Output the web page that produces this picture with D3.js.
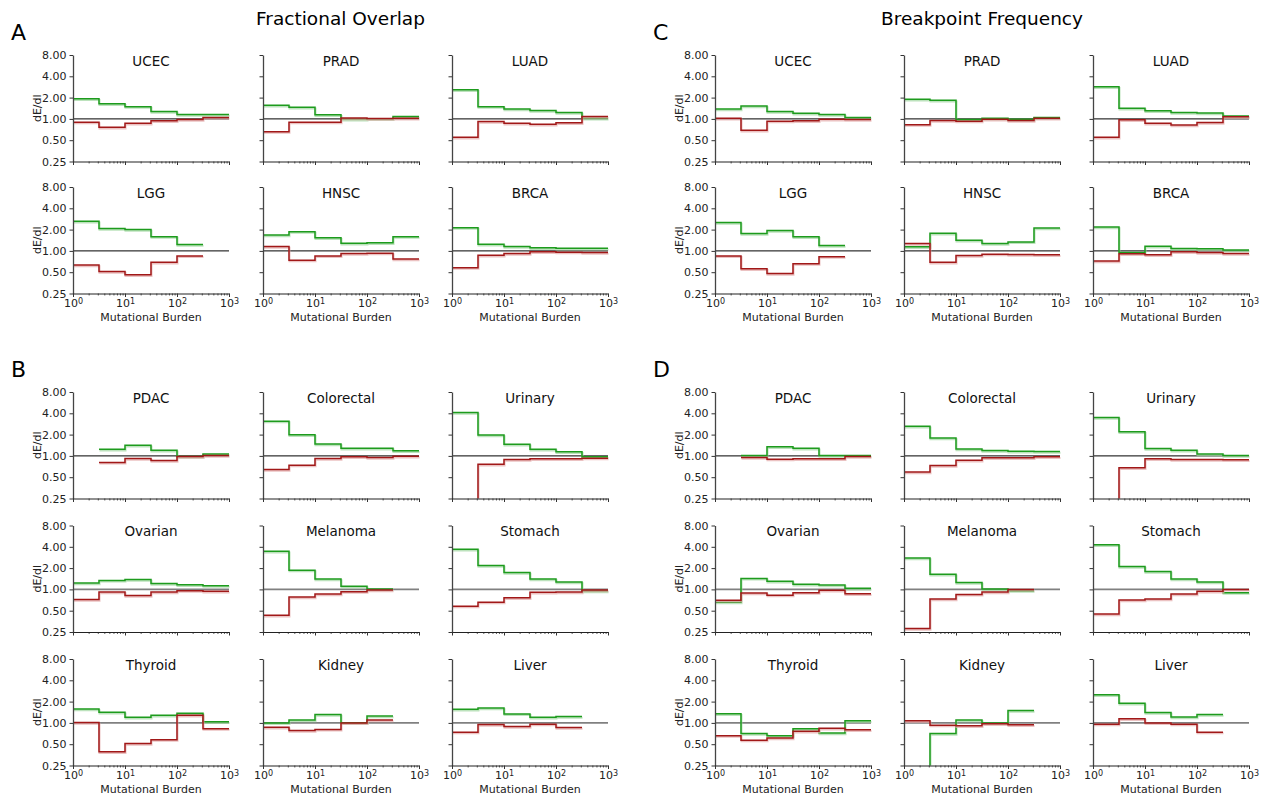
<!DOCTYPE html>
<html>
<head>
<meta charset="utf-8">
<script src="https://cdn.jsdelivr.net/npm/d3@7"></script>
<style>
  body { margin: 0; background: #fff; }
  text { font-family: "DejaVu Sans", sans-serif; }
</style>
</head>
<body>
<div id="chart"></div>
<script>
// tumour types
var tumorsTcga = ["UCEC", "PRAD", "LUAD", "LGG", "HNSC", "BRCA"];
var tumorsPcawg = ["PDAC", "Colorectal", "Urinary", "Ovarian", "Melanoma", "Stomach", "Thyroid", "Kidney", "Liver"];

// half-decade bins of mutational burden
var binEdges = [1, 3.162, 10, 31.62, 100, 316.2, 1000];
var yTicks = [0.25, 0.5, 1, 2, 4, 8];
var xMajor = [1, 10, 100, 1000];

// A: fractional overlap (TCGA)
var fracTcgaGreen = [
  [1.93, 1.64, 1.49, 1.27, 1.15, 1.15],
  [1.56, 1.46, 1.14, 0.99, 1.00, 1.08],
  [2.58, 1.49, 1.38, 1.31, 1.23, 1.02],
  [2.62, 2.07, 2.00, 1.59, 1.23, null],
  [1.68, 1.87, 1.53, 1.28, 1.30, 1.59],
  [2.13, 1.24, 1.15, 1.11, 1.09, 1.09]
];
var fracTcgaRed = [
  [0.90, 0.76, 0.87, 0.94, 0.98, 1.05],
  [0.66, 0.90, 0.90, 1.03, 1.01, 1.02],
  [0.55, 0.92, 0.87, 0.84, 0.88, 1.08],
  [0.63, 0.51, 0.46, 0.69, 0.85, null],
  [1.15, 0.74, 0.85, 0.92, 0.93, 0.77],
  [0.58, 0.87, 0.92, 0.97, 0.96, 0.95]
];

// C: breakpoint frequency (TCGA)
var bpTcgaGreen = [
  [1.38, 1.52, 1.27, 1.20, 1.15, 1.05],
  [1.89, 1.83, 0.98, 1.02, 0.99, 1.05],
  [2.84, 1.41, 1.30, 1.23, 1.21, 1.10],
  [2.51, 1.76, 1.94, 1.58, 1.19, null],
  [1.14, 1.78, 1.41, 1.27, 1.34, 2.11],
  [2.18, 0.95, 1.16, 1.08, 1.07, 1.03]
];
var bpTcgaRed = [
  [1.02, 0.69, 0.93, 0.94, 0.99, 0.98],
  [0.83, 0.95, 0.93, 0.99, 0.95, 1.02],
  [0.55, 0.97, 0.87, 0.82, 0.89, 1.07],
  [0.85, 0.56, 0.48, 0.66, 0.83, null],
  [1.27, 0.69, 0.86, 0.90, 0.89, 0.88],
  [0.72, 0.91, 0.88, 0.97, 0.95, 0.92]
];

// B: fractional overlap (PCAWG)
var fracPcawgGreen = [
  [null, 1.24, 1.41, 1.20, 0.98, 1.06],
  [3.10, 1.99, 1.47, 1.28, 1.28, 1.18],
  [4.10, 1.97, 1.46, 1.24, 1.14, 0.97],
  [1.23, 1.34, 1.38, 1.21, 1.16, 1.13],
  [3.45, 1.87, 1.40, 1.11, 1.01, null],
  [3.68, 2.17, 1.73, 1.40, 1.27, 0.95],
  [1.57, 1.41, 1.20, 1.28, 1.37, 1.04],
  [1.00, 1.10, 1.31, 1.00, 1.25, null],
  [1.56, 1.62, 1.34, 1.20, 1.23, null]
];
var fracPcawgRed = [
  [null, 0.81, 0.92, 0.86, 0.98, 1.01],
  [0.64, 0.74, 0.92, 0.97, 0.95, 0.99],
  [0.10, 0.76, 0.89, 0.91, 0.91, 0.93],
  [0.72, 0.92, 0.82, 0.92, 0.96, 0.94],
  [0.43, 0.78, 0.86, 0.93, 0.98, null],
  [0.58, 0.66, 0.76, 0.91, 0.92, 0.98],
  [1.01, 0.39, 0.51, 0.58, 1.28, 0.83],
  [0.87, 0.78, 0.81, 1.00, 1.10, null],
  [0.74, 0.95, 0.89, 0.96, 0.86, null]
];

// D: breakpoint frequency (PCAWG)
var bpPcawgGreen = [
  [null, 1.01, 1.35, 1.28, 1.01, 1.01],
  [2.63, 1.79, 1.25, 1.19, 1.16, 1.15],
  [3.48, 2.19, 1.27, 1.20, 1.06, 1.01],
  [0.66, 1.43, 1.30, 1.18, 1.15, 1.04],
  [2.78, 1.64, 1.25, 1.01, 0.96, null],
  [4.28, 2.10, 1.79, 1.40, 1.27, 0.90],
  [1.35, 0.71, 0.66, 0.83, 0.72, 1.07],
  [0.10, 0.71, 1.10, 1.00, 1.50, null],
  [2.50, 1.89, 1.40, 1.21, 1.31, null]
];
var bpPcawgRed = [
  [null, 0.95, 0.90, 0.91, 0.91, 0.98],
  [0.59, 0.73, 0.87, 0.94, 0.94, 0.97],
  [0.10, 0.68, 0.91, 0.89, 0.89, 0.88],
  [0.70, 0.89, 0.83, 0.90, 0.97, 0.87],
  [0.28, 0.73, 0.85, 0.92, 1.00, null],
  [0.45, 0.71, 0.73, 0.86, 0.94, 1.00],
  [0.66, 0.57, 0.61, 0.76, 0.84, 0.80],
  [1.07, 0.93, 0.91, 0.97, 0.94, null],
  [0.96, 1.14, 1.00, 0.96, 0.74, null]
];

var svg = d3.select("#chart").append("svg")
    .attr("width", 1266)
    .attr("height", 799);

var plotW = 156, plotH = 106.5;
var colsLeft = [73, 263, 452];
var colsRight = [715, 904, 1093];

var panels = [
  {letter: "A", title: "Fractional Overlap", cols: colsLeft, rows: [55, 187], names: tumorsTcga, green: fracTcgaGreen, red: fracTcgaRed, lx: 11, ly: 40},
  {letter: "C", title: "Breakpoint Frequency", cols: colsRight, rows: [55, 187], names: tumorsTcga, green: bpTcgaGreen, red: bpTcgaRed, lx: 653, ly: 40},
  {letter: "B", title: null, cols: colsLeft, rows: [392, 525.5, 659], names: tumorsPcawg, green: fracPcawgGreen, red: fracPcawgRed, lx: 11, ly: 377},
  {letter: "D", title: null, cols: colsRight, rows: [392, 525.5, 659], names: tumorsPcawg, green: bpPcawgGreen, red: bpPcawgRed, lx: 653, ly: 377}
];

var xScale = d3.scaleLog().domain([1, 1000]).range([0, plotW]);
var yScale = d3.scaleLog().base(2).domain([0.25, 8]).range([plotH, 0]);

var xMinor = [];
[1, 10, 100].forEach(function(p) {
  for (var k = 2; k <= 9; k++) xMinor.push(p * k);
});

// step points: each bin gives its left and right edge, nulls break the line
function stepPoints(vals) {
  var pts = [];
  vals.forEach(function(v, i) {
    pts.push({x: binEdges[i], v: v});
    pts.push({x: binEdges[i + 1], v: v});
  });
  return pts;
}

var stepLine = d3.line()
    .defined(function(d) { return d.v != null; })
    .x(function(d) { return xScale(d.x); })
    .y(function(d) { return yScale(Math.max(d.v, 0.05)); });

svg.append("defs").append("clipPath")
    .attr("id", "plotclip")
  .append("rect")
    .attr("x", -1).attr("y", 0)
    .attr("width", plotW + 2).attr("height", plotH);

panels.forEach(function(p) {
  svg.append("text")
      .attr("x", p.lx).attr("y", p.ly)
      .style("font-size", "22px")
      .text(p.letter);
  if (p.title) {
    svg.append("text")
        .attr("x", p.cols[0] + (p.cols[2] + plotW - p.cols[0]) / 2)
        .attr("y", 25)
        .attr("text-anchor", "middle")
        .style("font-size", "18.5px")
        .text(p.title);
  }

  var nRows = p.rows.length;
  p.names.forEach(function(name, i) {
    var r = Math.floor(i / 3), c = i % 3;
    var g = svg.append("g")
        .attr("transform", "translate(" + p.cols[c] + "," + p.rows[r] + ")");
    var lastRow = (r === nRows - 1);
    var softRef = (p.letter === "B" || p.letter === "D") && r > 0;

    // reference line at 1
    g.append("line")
        .attr("x1", 0).attr("x2", plotW)
        .attr("y1", yScale(1)).attr("y2", yScale(1))
        .attr("stroke", softRef ? "#808080" : "#000")
        .attr("stroke-width", softRef ? 1.8 : 1);

    var lines = g.append("g").attr("clip-path", "url(#plotclip)");
    [[p.green[i], "#1d9b1d", "#9fd69f"], [p.red[i], "#a11818", "#e3a8a8"]].forEach(function(s) {
      var pts = stepPoints(s[0]);
      lines.append("path")
          .attr("d", stepLine(pts))
          .attr("transform", "translate(0.5,1.2)")
          .attr("fill", "none")
          .attr("stroke", s[2])
          .attr("stroke-width", 2)
          .attr("opacity", 0.7);
      lines.append("path")
          .attr("d", stepLine(pts))
          .attr("fill", "none")
          .attr("stroke", s[1])
          .attr("stroke-width", 1.5);
    });

    // y axis
    var yAxis = d3.axisLeft(yScale)
        .tickValues(yTicks)
        .tickSize(3.5)
        .tickSizeOuter(0)
        .tickPadding(3)
        .tickFormat(c === 0 ? d3.format(".2f") : function() { return ""; });
    var ya = g.append("g").call(yAxis);
    ya.attr("font-family", null).attr("font-size", null);
    ya.selectAll("text").style("font-size", "11px").attr("fill", "#222");
    ya.select(".domain").attr("stroke", "#444").attr("stroke-width", 1.3);
    ya.selectAll(".tick line").attr("stroke", "#333");

    // x axis, minor ticks first
    var xm = g.append("g")
        .attr("transform", "translate(0," + plotH + ")")
        .call(d3.axisBottom(xScale).tickValues(xMinor).tickSize(2).tickFormat(function() { return ""; }));
    xm.select(".domain").remove();
    xm.selectAll(".tick line").attr("stroke", "#333").attr("stroke-width", 0.8);

    var xAxis = d3.axisBottom(xScale)
        .tickValues(xMajor)
        .tickSize(3.5)
        .tickSizeOuter(0)
        .tickPadding(2.5)
        .tickFormat(function() { return ""; });
    var xa = g.append("g")
        .attr("transform", "translate(0," + plotH + ")")
        .call(xAxis);
    xa.attr("font-family", null).attr("font-size", null);
    xa.select(".domain").attr("stroke", "#222").attr("stroke-width", 1.2);
    xa.selectAll(".tick line").attr("stroke", "#333");
    if (lastRow) {
      xa.selectAll(".tick text").each(function(d) {
        var t = d3.select(this).attr("fill", "#222").style("font-size", "11px");
        t.append("tspan").text("10");
        t.append("tspan")
            .attr("dy", "-0.45em")
            .style("font-size", "8px")
            .text(Math.round(Math.log10(d)));
      });
      g.append("text")
          .attr("x", plotW / 2).attr("y", plotH + 27)
          .attr("text-anchor", "middle")
          .style("font-size", "11px")
          .attr("fill", "#222")
          .text("Mutational Burden");
    }

    if (c === 0) {
      g.append("text")
          .attr("transform", "translate(-32," + (plotH / 2) + ") rotate(-90)")
          .attr("text-anchor", "middle")
          .style("font-size", "11px")
          .attr("fill", "#222")
          .text("dE/dl");
    }

    g.append("text")
        .attr("x", plotW / 2).attr("y", 10.5)
        .attr("text-anchor", "middle")
        .style("font-size", "13.5px")
        .attr("fill", "#111")
        .text(name);
  });
});
</script>
</body>
</html>
